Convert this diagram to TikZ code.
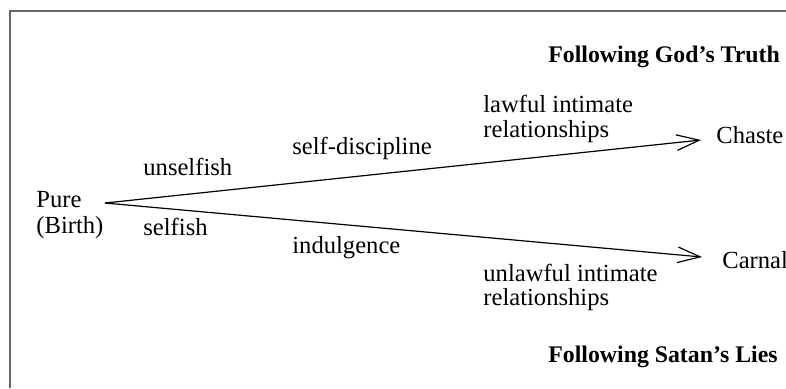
\documentclass[tikz,border=0pt]{standalone}
\usepackage{fontspec}
\setmainfont{Liberation Serif}
\usetikzlibrary{arrows.meta}

\begin{document}
\begin{tikzpicture}[x=0.5pt,y=-0.5pt,font=\fontsize{12.3}{12.5}\selectfont,
    lbl/.style={anchor=base west,inner sep=0},
    head/.style={lbl,font=\fontsize{11.9}{12.5}\selectfont\bfseries},
    path/.style={line width=0.6pt,-{Straight Barb[length=11.3pt,width=7.8pt]}}]
    \useasboundingbox(0,0)rectangle(786,388);
    \draw[black!60,line width=0.6pt](10,388)--(10,11)--(786,11);

    \node[lbl](pure)at(36,207){Pure};
    \node[lbl](birth)at(36,233){(Birth)};
    \coordinate(fork)at(105,203);

    \node[lbl](chaste)at(716,143){Chaste};
    \node[lbl](carnal)at(722,268){Carnal};

    \draw[path](fork)--([xshift=-7.5pt,yshift=1.5pt]chaste.base west);
    \draw[path](fork)--([xshift=-10pt,yshift=5.5pt]carnal.base west);

    \node[lbl](unselfish)at(143,175){unselfish};
    \node[lbl](discipline)at(292,154){self-discipline};
    \node[lbl](lawful)at(483,112){lawful intimate};
    \node[lbl](lawfulrel)at(483,137){relationships};

    \node[lbl](selfish)at(143,235){selfish};
    \node[lbl](indulgence)at(292,253){indulgence};
    \node[lbl](unlawful)at(483,281){unlawful intimate};
    \node[lbl](unlawfulrel)at(483,305){relationships};

    \node[head](truth)at(548,62){Following God’s Truth};
    \node[head](lies)at(548,362){Following Satan’s Lies};
\end{tikzpicture}
\end{document}
